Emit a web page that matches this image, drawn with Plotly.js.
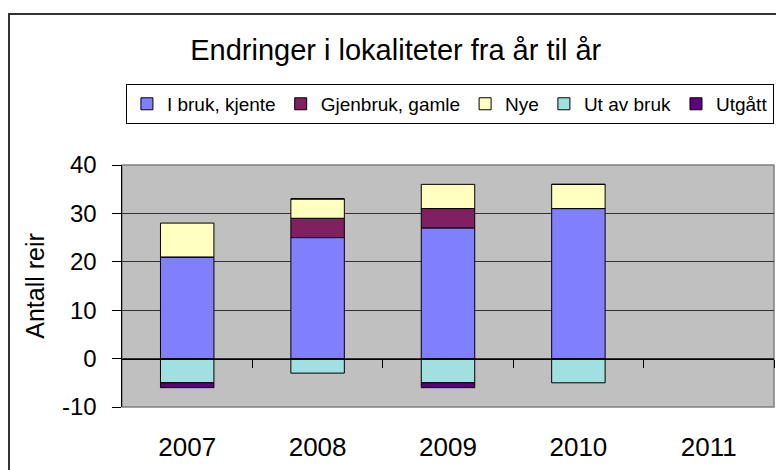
<!DOCTYPE html>
<html>
<head>
<meta charset="utf-8">
<script src="https://cdn.plot.ly/plotly-3.0.1.min.js"></script>
<style>
  html, body { margin: 0; padding: 0; background: #ffffff; }
  #wrap { position: relative; width: 776px; height: 470px; overflow: hidden; }
  #chart { width: 776px; height: 470px; }
  #frame { position: absolute; left: 8px; top: 13px; width: 900px; height: 600px;
           border-left: 2px solid #333; border-top: 2px solid #333; pointer-events: none; }
</style>
</head>
<body>
<div id="wrap">
  <div id="chart"></div>
  <div id="frame"></div>
</div>
<script>
// ---- data ----
var years = ['2007', '2008', '2009', '2010', '2011'];
var iBrukKjente   = [21, 25, 27, 31, null];
var gjenbrukGamle = [0, 4, 4, 0, null];
var nye           = [7, 4, 5, 5, null];
var utAvBruk      = [-5, -3, -5, -5, null];
var utgatt        = [-1, 0, -1, 0, null];
var seriesNames   = ['I bruk, kjente', 'Gjenbruk, gamle', 'Nye', 'Ut av bruk', 'Utgått'];
var seriesColors  = ['#8080FF', '#802060', '#FFFFC0', '#A0E0E0', '#600080'];
var yTicks        = [-10, 0, 10, 20, 30, 40];
var yTickLabels   = ['-10', '0', '10', '20', '30', '40'];
var catBoundaries = [0.5, 1.5, 2.5, 3.5, 4.5];

var FONT = 'Arial, "Liberation Sans", sans-serif';
var seriesValues = [iBrukKjente, gjenbrukGamle, nye, utAvBruk, utgatt];

var traces = seriesValues.map(function (vals, i) {
  return {
    type: 'bar',
    name: seriesNames[i],
    x: years,
    y: vals,
    marker: { color: seriesColors[i], line: { color: '#000000', width: 1 } },
    hoverinfo: 'x+y+name'
  };
});
// helper trace so the zero-line axis (x2) is drawn
traces.push({
  type: 'scatter', x: [null], y: [null], xaxis: 'x2', yaxis: 'y',
  showlegend: false, hoverinfo: 'skip', mode: 'markers'
});

var layout = {
  width: 776, height: 470,
  margin: { l: 122, r: 2, t: 165, b: 63 },
  paper_bgcolor: '#ffffff',
  plot_bgcolor: '#C0C0C0',
  barmode: 'relative',
  bargap: 0.59,
  font: { family: FONT, color: '#000000' },
  title: {
    text: 'Endringer i lokaliteter fra år til år',
    font: { family: FONT, size: 29, color: '#000000' },
    xref: 'container', yref: 'container',
    x: 0.51, xanchor: 'center',
    y: 1 - 50 / 470, yanchor: 'middle'
  },
  legend: {
    orientation: 'h',
    x: 0.006, xanchor: 'left',
    y: 1.335, yanchor: 'top',
    bordercolor: '#000000', borderwidth: 1,
    bgcolor: '#ffffff',
    font: { family: FONT, size: 19, color: '#000000' },
    traceorder: 'normal'
  },
  xaxis: {
    type: 'category',
    categoryarray: years,
    range: [-0.5, 4.5],
    showgrid: false,
    showline: false,
    zeroline: false,
    ticks: '',
    ticklabelstandoff: 22,
    tickfont: { family: FONT, size: 26, color: '#000000' },
    fixedrange: true
  },
  xaxis2: {
    overlaying: 'x',
    anchor: 'free',
    position: 0.2,
    type: 'linear',
    range: [-0.5, 4.5],
    tickvals: catBoundaries,
    showticklabels: false,
    ticks: 'outside',
    ticklen: 8,
    tickwidth: 1,
    tickcolor: '#000000',
    showline: true,
    linecolor: '#000000',
    linewidth: 1.5,
    showgrid: false,
    zeroline: false
  },
  yaxis: {
    range: [-10, 40],
    tickvals: yTicks,
    ticktext: yTickLabels,
    showgrid: true,
    gridcolor: '#333333',
    gridwidth: 1,
    zeroline: false,
    showline: true,
    linecolor: '#000000',
    linewidth: 1.5,
    ticks: 'outside',
    ticklen: 9,
    tickcolor: '#000000',
    ticklabelstandoff: 10,
    tickfont: { family: FONT, size: 24, color: '#000000' },
    title: {
      text: 'Antall reir',
      font: { family: FONT, size: 25, color: '#000000' },
      standoff: 10
    },
    automargin: false,
    fixedrange: true
  },
  shapes: [{
    type: 'rect', xref: 'paper', yref: 'paper',
    x0: 0, x1: 1, y0: 0, y1: 1,
    line: { color: '#808080', width: 1.5 },
    layer: 'between'
  }]
};

Plotly.newPlot('chart', traces, layout, { displayModeBar: false, staticPlot: true });
</script>
</body>
</html>
